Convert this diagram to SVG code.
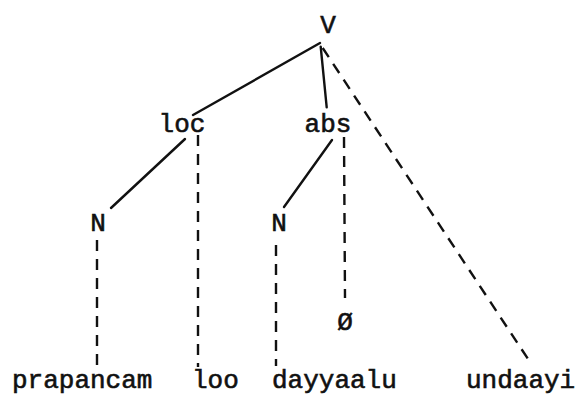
<svg xmlns="http://www.w3.org/2000/svg" width="582" height="397" viewBox="0 0 582 397">
<style>
  text { font-family: "Liberation Mono", "Courier New", monospace; font-size: 26px; fill: #111; stroke: #111; stroke-width: 0.6; }
  .solid { stroke: #111; stroke-width: 2.4; fill: none; stroke-linecap: round; }
  .dash { stroke: #111; stroke-width: 2.4; fill: none; stroke-dasharray: 11 8; }
</style>
<rect width="582" height="397" fill="#ffffff"/>
<g id="connectors">
  <line class="solid" x1="320" y1="43" x2="193" y2="115"/>
  <line class="solid" x1="320.7" y1="46.7" x2="326.7" y2="107.3"/>
  <line class="solid" x1="185" y1="139" x2="111" y2="208"/>
  <line class="solid" x1="332" y1="140" x2="284" y2="207"/>
  <line class="dash" x1="322.7" y1="48" x2="530" y2="362"/>
  <line class="dash" x1="198" y1="135" x2="198" y2="367"/>
  <line class="dash" x1="344" y1="137" x2="345" y2="298"/>
  <line class="dash" x1="97" y1="240" x2="97" y2="367"/>
  <line class="dash" x1="276" y1="245" x2="276" y2="366"/>
</g>
<g id="node-V"><text x="328" y="33" text-anchor="middle">V</text></g>
<g id="node-loc"><text x="182" y="132" text-anchor="middle">loc</text></g>
<g id="node-abs"><text x="328" y="132" text-anchor="middle">abs</text></g>
<g id="node-N1"><text x="98" y="231" text-anchor="middle">N</text></g>
<g id="node-N2"><text x="279" y="231" text-anchor="middle">N</text></g>
<g id="node-null"><text x="345" y="330" text-anchor="middle">Ø</text></g>
<g id="node-prapancam"><text x="12" y="388">prapancam</text></g>
<g id="node-loo"><text x="192" y="388">loo</text></g>
<g id="node-dayyaalu"><text x="272" y="388">dayyaalu</text></g>
<g id="node-undaayi"><text x="466" y="388">undaayi</text></g>
</svg>
